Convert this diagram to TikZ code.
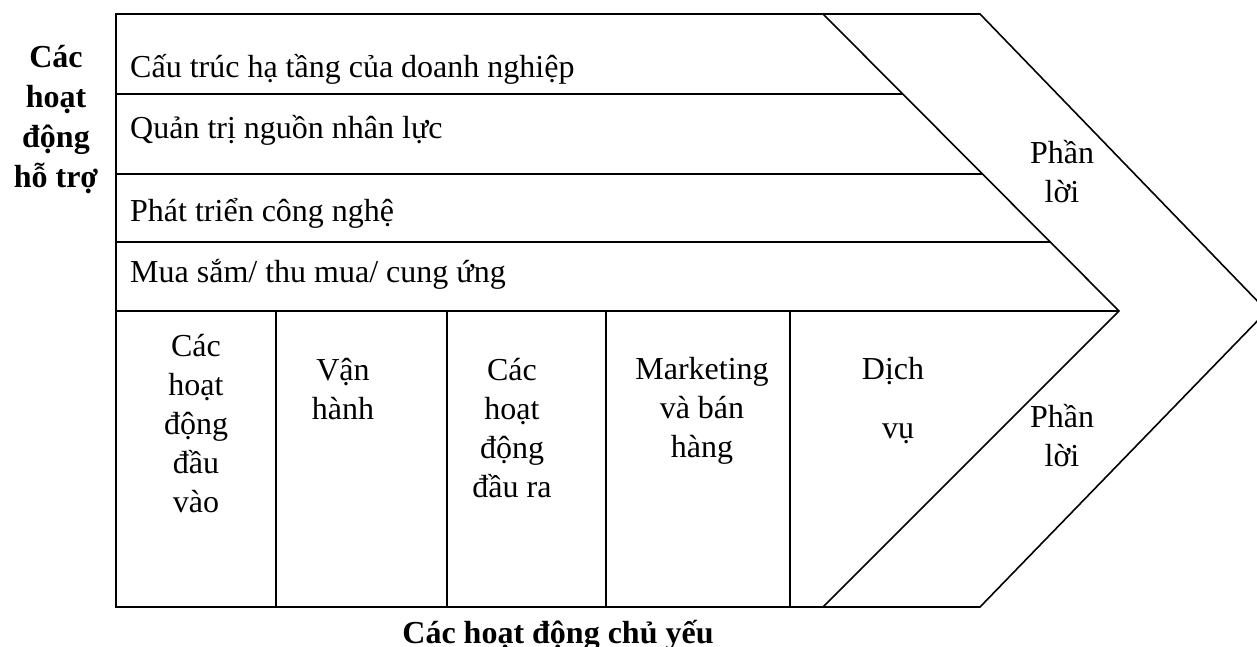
\documentclass[tikz,border=0pt]{standalone}
\usepackage{fontspec}
\setmainfont{Liberation Serif}
\begin{document}
\begin{tikzpicture}[x=1pt,y=-1pt,
  frame/.style={line width=1.6pt,line join=miter},
  rowtxt/.style={anchor=base west,inner sep=0pt,font=\fontsize{32}{39}\selectfont},
  coltxt/.style={anchor=base,inner sep=0pt,align=center,font=\fontsize{32}{39}\selectfont},
  boldtxt/.style={anchor=base,inner sep=0pt,align=center,font=\fontsize{32}{40}\selectfont\bfseries}]
\useasboundingbox (0,0) rectangle (1257,647);
\clip (0,0) rectangle (1257,647);
% chevron outline
\coordinate (tl) at (116,14);
\coordinate (tr) at (980,14);
\coordinate (tip) at (1267,311);
\coordinate (br) at (980,607);
\coordinate (bl) at (116,607);
\draw[frame] (tl) -- (tr) -- (tip) -- (br) -- (bl) -- cycle;
% margin band
\coordinate (mt) at (823,14);
\coordinate (mm) at (1119,311);
\coordinate (mb) at (823,607);
\draw[frame] (mt) -- (mm) -- (mb);
% support rows
\draw[frame] (116,94) -- (903,94);
\draw[frame] (116,174) -- (983,174);
\draw[frame] (116,242) -- (1051,242);
\draw[frame] (116,311) -- (mm);
% primary columns
\foreach \cx in {276,447,606,790} \draw[frame] (\cx,311) -- (\cx,607);
% support activity labels
\node[rowtxt] (r1) at (130,78) {Cấu trúc hạ tầng của doanh nghiệp};
\node[rowtxt] (r2) at (130,139) {Quản trị nguồn nhân lực};
\node[rowtxt] (r3) at (130,221) {Phát triển công nghệ};
\node[rowtxt] (r4) at (130,282) {Mua sắm/ thu mua/ cung ứng};
% primary activity labels (anchored at the baseline of the last line)
\node[coltxt] (c1) at (196,512) {Các\\hoạt\\động\\đầu\\vào};
\node[coltxt] (c2) at (343,419) {Vận\\hành};
\node[coltxt] (c3) at (512,497) {Các\\hoạt\\động\\đầu ra};
\node[coltxt] (c4) at (702,457) {Marketing\\và bán\\hàng};
\node[coltxt] (c5a) at (893,379) {Dịch};
\node[coltxt] (c5b) at (898,438) {vụ};
% margin labels
\node[coltxt] (m1) at (1062,202) {Phần\\lời};
\node[coltxt] (m2) at (1062,466) {Phần\\lời};
% group titles
\node[boldtxt] (sup) at (56,188) {Các\\hoạt\\động\\hỗ trợ};
\node[boldtxt] (pri) at (558,643) {Các hoạt động chủ yếu};
\end{tikzpicture}
\end{document}
